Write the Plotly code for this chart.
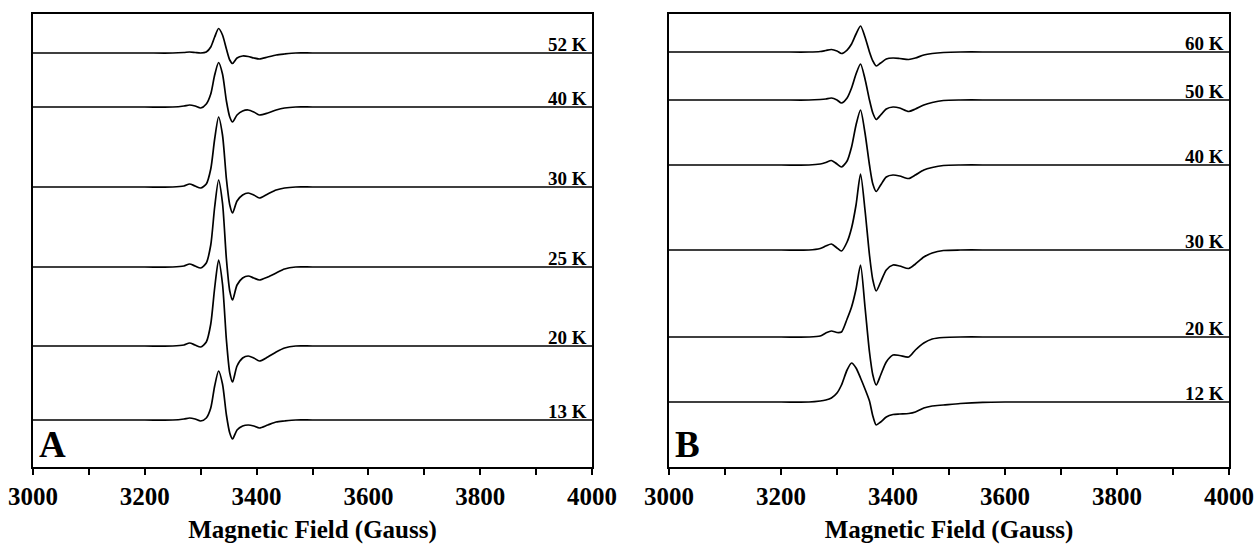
import plotly.graph_objects as go

# ---- Panel A: EPR spectra at several temperatures ----
field_a = [3000, 3100, 3200, 3250, 3270, 3280, 3290, 3300, 3310, 3318, 3325, 3332,
           3339, 3346, 3352, 3357, 3365, 3375, 3385, 3395, 3405, 3420, 3435, 3450,
           3470, 3500, 3600, 3700, 3800, 3900, 4000]

labels_a = ["52 K", "40 K", "30 K", "25 K", "20 K", "13 K"]
offsets_a = [414, 360, 280, 200, 121, 47]

sig_52k_a = [0, 0, 0, 0, 0.5, 1, 0.5, 0, 1, 6, 16, 24.5, 18, 4, -7, -10.5, -5, -3, -3.5, -5, -6, -4, -2, -1, 0, 0, 0, 0, 0, 0, 0]
sig_40k_a = [0, 0, 0, 0, 1, 2, 1, -1, 3, 13, 32, 44.5, 33, 6, -10, -15, -8, -4, -3, -5, -8, -6, -3, -1, 0, 0, 0, 0, 0, 0, 0]
sig_30k_a = [0, 0, 0, 0, 1, 3, 1, -1, 3, 18, 48, 70, 52, 8, -18, -26, -14, -8, -6, -8, -11, -7, -3, -1, 0, 0, 0, 0, 0, 0, 0]
sig_25k_a = [0, 0, 0, 0, 1, 3, 1, -1, 4, 22, 60, 87, 64, 8, -24, -33, -18, -11, -9, -11, -13, -10, -6, -2, 0, 0, 0, 0, 0, 0, 0]
sig_20k_a = [0, 0, 0, 0, 1, 3, 1, -1, 4, 22, 58, 86, 62, 6, -27, -36, -20, -12, -10, -12, -15, -11, -6, -2, 0, 0, 0, 0, 0, 0, 0]
sig_13k_a = [0, 0, 0, 0, 1, 2, 1, -1, 2, 12, 34, 49, 36, 5, -13, -19, -10, -6, -5, -6, -8, -5, -2, -1, 0, 0, 0, 0, 0, 0, 0]
signals_a = [sig_52k_a, sig_40k_a, sig_30k_a, sig_25k_a, sig_20k_a, sig_13k_a]

# ---- Panel B ----
field_b = [3000, 3100, 3200, 3250, 3270, 3280, 3290, 3300, 3308, 3318, 3326, 3334,
           3342, 3350, 3358, 3364, 3370, 3378, 3388, 3400, 3412, 3428, 3440, 3455,
           3470, 3490, 3520, 3560, 3600, 3700, 3800, 3900, 4000]

labels_b = ["60 K", "50 K", "40 K", "30 K", "20 K", "12 K"]
offsets_b = [415, 367, 302, 217, 130, 65]

sig_60k_b = [0, 0, 0, 0, 0.5, 1.5, 2.5, 1, -1.5, 2, 8, 18, 26, 15, 0, -9, -14, -11, -7, -6, -6.5, -7.5, -6, -3, -1.5, -0.5, 0, 0, 0, 0, 0, 0, 0]
sig_50k_b = [0, 0, 0, 0, 0.5, 1, 2, 0, -3, 2, 12, 26, 36, 21, 0, -13, -19.5, -15, -9, -7, -8, -11.5, -9, -5, -2.5, -0.5, 0, 0, 0, 0, 0, 0, 0]
sig_40k_b = [0, 0, 0, 0, 1, 2.5, 4.5, 1, -2, 4, 18, 40, 55, 32, 0, -19, -26.5, -20, -12, -10, -11, -13.5, -10, -5, -2.5, -0.5, 0, 0, 0, 0, 0, 0, 0]
sig_30k_b = [0, 0, 0, 0, 1.5, 4, 6, 2, -1, 8, 22, 45, 76, 40, -5, -30, -41, -32, -20, -15, -16, -18.5, -14, -7, -3, -0.5, 0, 0, 0, 0, 0, 0, 0]
sig_20k_b = [0, 0, 0, 0, 1, 4, 6, 4.5, 5, 18, 30, 48, 72, 30, -15, -38, -48, -38, -25, -18, -18.5, -20, -13, -6, -2, -0.5, 0, 0, 0, 0, 0, 0, 0]
sig_12k_b = [0, 0, 0, 0, 1, 2, 4, 9, 17, 32, 39, 34, 24, 13, 1, -14, -23, -20, -15, -12.5, -12, -11.5, -10, -6, -4, -3, -1.5, -0.3, 0, 0, 0, 0, 0]
signals_b = [sig_60k_b, sig_50k_b, sig_40k_b, sig_30k_b, sig_20k_b, sig_12k_b]

FONT = "Liberation Serif"
Y_RANGE = [0, 453]

fig = go.Figure()

def add_panel(fields, signals, offsets, labels, xref, yref):
    for sig, off, lab in zip(signals, offsets, labels):
        fig.add_trace(go.Scatter(
            x=fields, y=[v + off for v in sig], mode="lines",
            line=dict(color="black", width=1.7, shape="spline", smoothing=0.7),
            xaxis=xref, yaxis=yref, showlegend=False, hoverinfo="skip"))
        fig.add_annotation(
            x=3995, y=off, xref=xref, yref=yref, text=lab, showarrow=False,
            xanchor="right", yanchor="bottom", yshift=-4,
            font=dict(family=FONT, size=19, color="black", weight="bold"))

add_panel(field_a, signals_a, offsets_a, labels_a, "x", "y")
add_panel(field_b, signals_b, offsets_b, labels_b, "x2", "y2")

for xr, yr, letter in [("x", "y", "A"), ("x2", "y2", "B")]:
    fig.add_annotation(
        x=0.008, y=0.0, xref=f"{xr} domain", yref=f"{yr} domain", text=letter,
        showarrow=False, xanchor="left", yanchor="bottom",
        font=dict(family=FONT, size=37, color="black", weight="bold"))

xaxis_style = dict(
    range=[3000, 4000], dtick=200, tick0=3000, ticks="outside", ticklen=6,
    tickwidth=1.5, tickcolor="black", showline=True, linecolor="black", linewidth=1.5,
    mirror=True, showgrid=False, zeroline=False, automargin=False,
    ticklabeloverflow="allow",
    minor=dict(dtick=100, ticks="outside", ticklen=6, tickwidth=1.5, tickcolor="black"),
    tickfont=dict(family=FONT, size=25, color="black", weight="bold"),
    title=dict(text="Magnetic Field (Gauss)", standoff=18,
               font=dict(family=FONT, size=25, color="black", weight="bold")),
)
yaxis_style = dict(
    range=Y_RANGE, showticklabels=False, ticks="", showline=True, linecolor="black",
    linewidth=1.5, mirror=True, showgrid=False, zeroline=False, automargin=False,
    domain=[1 - 467 / 544, 1 - 14 / 544],
)

fig.update_layout(
    width=1254, height=544, margin=dict(l=0, r=0, t=0, b=0),
    paper_bgcolor="white", plot_bgcolor="white",
    xaxis=dict(domain=[33 / 1254, 592 / 1254], anchor="y", **xaxis_style),
    yaxis=dict(anchor="x", **yaxis_style),
    xaxis2=dict(domain=[669 / 1254, 1229 / 1254], anchor="y2", **xaxis_style),
    yaxis2=dict(anchor="x2", **yaxis_style),
)

fig.write_html("out.html")
